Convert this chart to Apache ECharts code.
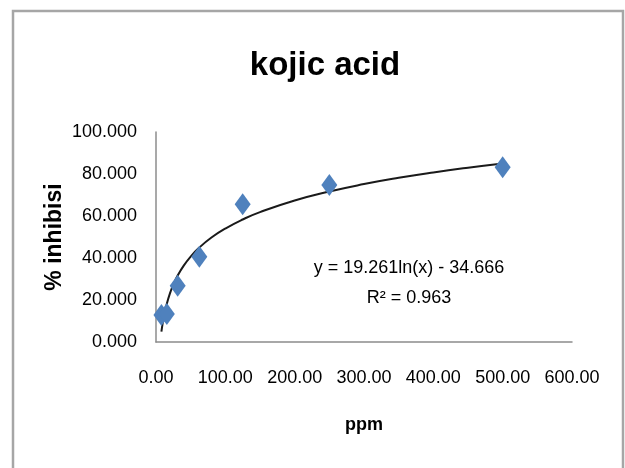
<!DOCTYPE html>
<html>
<head>
<meta charset="utf-8">
<script src="https://cdn.jsdelivr.net/npm/echarts@6/dist/echarts.min.js"></script>
<style>
html,body{margin:0;padding:0;background:#fff;}
#chart{width:625px;height:468px;}
</style>
</head>
<body>
<div id="chart"></div>
<script>
// Data
const concentrations = [7.8125, 15.625, 31.25, 62.5, 125, 250, 500];
const inhibition = [12.9, 13.3, 26.8, 40.6, 65.6, 74.8, 83.2];
// Logarithmic trendline as printed on the chart: y = a ln(x) + b
const trendA = 19.261;
const trendB = -34.666;
const trendXs = [7.8125, 10, 12, 15, 20, 25, 31.25, 40, 50, 62.5, 80, 100, 125, 150, 200, 250, 300, 350, 400, 450, 500];
const xTicks = [0, 100, 200, 300, 400, 500, 600];
const yTicks = [0, 20, 40, 60, 80, 100];
const equationText = 'y = 19.261ln(x) - 34.666';
const r2Text = 'R² = 0.963';

const scatterData = concentrations.map((c, i) => [c, inhibition[i]]);
const trendData = trendXs.map(x => [x, trendA * Math.log(x) + trendB]);

const chart = echarts.init(document.getElementById('chart'));
const sans = "'Liberation Sans', Arial, sans-serif";
chart.setOption({
  backgroundColor: '#ffffff',
  animation: false,
  title: [
    {
      text: 'kojic acid',
      left: 320, top: 44, textAlign: 'center',
      textStyle: {fontFamily: sans, fontWeight: 'bold', fontSize: 33, color: '#000'}
    },
    {
      text: equationText + '\n' + r2Text,
      left: 404, top: 248, textAlign: 'center',
      textStyle: {fontFamily: sans, fontWeight: 'normal', fontSize: 18, lineHeight: 30, color: '#000'}
    }
  ],
  graphic: [{
    type: 'rect',
    shape: {x: 13, y: 11, width: 610, height: 480},
    style: {fill: 'none', stroke: '#a6a6a6', lineWidth: 2.5},
    silent: true
  }],
  grid: {left: 156, right: 53, top: 132, bottom: 126, containLabel: false},
  xAxis: {
    type: 'value', min: xTicks[0], max: xTicks[xTicks.length - 1], interval: 100,
    name: 'ppm', nameLocation: 'middle', nameGap: 74,
    nameTextStyle: {fontFamily: sans, fontWeight: 'bold', fontSize: 18, color: '#000'},
    axisLine: {show: true, lineStyle: {color: '#8c8c8c', width: 1.5}},
    axisTick: {show: false},
    splitLine: {show: false},
    axisLabel: {margin: 27, fontFamily: sans, fontSize: 18, color: '#000',
      formatter: v => v.toFixed(2)}
  },
  yAxis: {
    type: 'value', min: yTicks[0], max: yTicks[yTicks.length - 1], interval: 20,
    name: '% inhibisi', nameLocation: 'middle', nameGap: 90, nameRotate: 90,
    nameMoveOverlap: false,
    nameTextStyle: {fontFamily: sans, fontWeight: 'bold', fontSize: 23, color: '#000'},
    axisLine: {show: true, lineStyle: {color: '#8c8c8c', width: 1.5}},
    axisTick: {show: false},
    splitLine: {show: false},
    axisLabel: {margin: 19, fontFamily: sans, fontSize: 18, color: '#000',
      formatter: v => v.toFixed(3)}
  },
  series: [
    {
      type: 'line', data: trendData, smooth: true, showSymbol: false, symbol: 'none',
      lineStyle: {color: '#1a1a1a', width: 2}, z: 2
    },
    {
      type: 'scatter', data: scatterData, symbol: 'diamond', symbolSize: [16, 22],
      itemStyle: {color: '#4f81bd', opacity: 1}, z: 3
    }
  ]
});
</script>
</body>
</html>
